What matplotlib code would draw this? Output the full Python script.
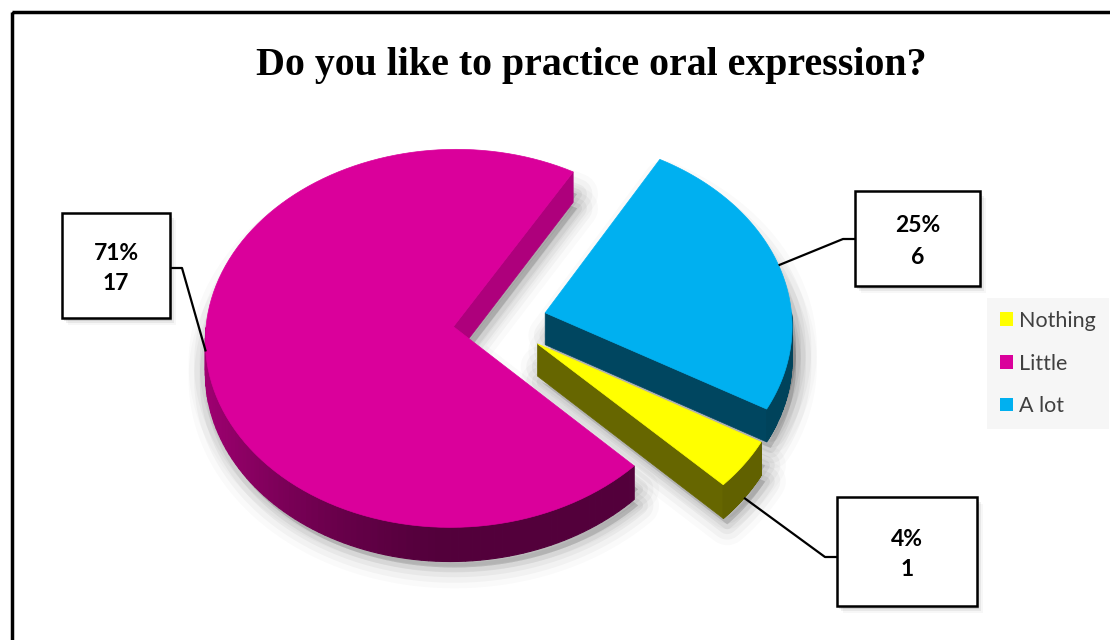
import numpy as np
import matplotlib.pyplot as plt
from matplotlib.patches import Polygon, Rectangle, Patch
from matplotlib.colors import to_rgb

# data
categories = ["Nothing", "Little", "A lot"]
counts = [1, 17, 6]
colors = ["#FFFF00", "#DA009B", "#00B0F0"]
title = "Do you like to practice oral expression?"

# fake 3D pie layout (pixels, y grows downward)
CX, CY = 500, 322
R = 247
TILT = 0.76
DEPTH = 32
PERSP = 4000.0

# label boxes (x0, y0, x1, y1) and elbow height, same order as categories
boxes = [(837, 497, 977, 606), (62, 213, 170, 318), (855, 191, 980, 286)]
elbow_y = [557, 268, 239]


def proj(u, v, z=0.0):
    """unit pie coords (u, v) + height z -> screen pixels"""
    x, y = u * R, v * R
    s = 1.0 / (1.0 + y / PERSP)
    return CX + x * s, CY + (-TILT * y - z) * s


def shade(c, f):
    r, g, b = to_rgb(c)
    return (r * f, g * f, b * f)


def rim(ox, oy, a, z=0.0):
    return proj(ox + np.cos(np.radians(a)), oy + np.sin(np.radians(a)), z)


fig = plt.figure(figsize=(11.1, 6.4), dpi=100)
ax = fig.add_axes([0, 0, 1, 1])

wedges, _ = ax.pie(counts, colors=colors, startangle=-30, counterclock=False,
                   explode=[0.19] * 3, radius=1, center=(0, 0))
geo = []
for w, c in zip(wedges, colors):
    geo.append((w.center[0], w.center[1], w.theta1, w.theta2, c))
    w.remove()

ax.set_xlim(0, 1110)
ax.set_ylim(640, 0)
ax.set_aspect("auto")
ax.axis("off")


def face_pts(ox, oy, t1, t2, z):
    pts = [proj(ox, oy, z)]
    for a in np.linspace(t1, t2, 120):
        pts.append(rim(ox, oy, a, z))
    return pts


# soft shadow under the slices (offset down-right)
for ox, oy, t1, t2, c in geo:
    pts = [(x + 4, y + 6) for x, y in face_pts(ox, oy, t1, t2, -DEPTH)]
    pts2 = [(x + 4, y + 10) for x, y in face_pts(ox, oy, t1, t2, -DEPTH * 0.4)]
    for p in (pts, pts2):
        for lw, al in [(30, 0.02), (22, 0.03), (14, 0.04), (7, 0.05)]:
            ax.add_patch(Polygon(p, closed=True, fc=(0, 0, 0, al), ec=(0, 0, 0, al),
                                 lw=lw, joinstyle="round"))

# slices, back to front
order = sorted(range(len(geo)), key=lambda i: -geo[i][1])
for i in order:
    ox, oy, t1, t2, c = geo[i]
    # radial side faces
    for a, nrm in ((t1, t1 - 90), (t2, t2 + 90)):
        if np.sin(np.radians(nrm)) < 0:
            f = 0.4 + 0.4 * max(0.0, np.cos(np.radians(nrm + 30)))
            pts = [proj(ox, oy, 0), rim(ox, oy, a, 0), rim(ox, oy, a, -DEPTH), proj(ox, oy, -DEPTH)]
            ax.add_patch(Polygon(pts, closed=True, fc=shade(c, f), ec=shade(c, f), lw=0.5))
    # outer wall
    ang = np.linspace(t1, t2, 160)
    for a0, a1 in zip(ang[:-1], ang[1:]):
        am = 0.5 * (a0 + a1)
        if np.sin(np.radians(am)) >= 0:
            continue
        f = 0.38 + 0.36 * max(0.0, -np.cos(np.radians(am))) ** 1.5
        pts = [rim(ox, oy, a0, 0), rim(ox, oy, a1, 0), rim(ox, oy, a1, -DEPTH), rim(ox, oy, a0, -DEPTH)]
        ax.add_patch(Polygon(pts, closed=True, fc=shade(c, f), ec=shade(c, f), lw=0.8))
    # top face
    ax.add_patch(Polygon(face_pts(ox, oy, t1, t2, 0), closed=True, fc=c, ec=c, lw=0.5))

# data labels with leader lines
total = sum(counts)
for i, (ox, oy, t1, t2, c) in enumerate(geo):
    x0, y0, x1, y1 = boxes[i]
    am = 0.5 * (t1 + t2)
    z = -DEPTH if np.sin(np.radians(am)) < -0.5 else 0
    axp, ayp = rim(ox, oy, am, z)
    if axp < x0:
        ex = x0 - 12
        bx = x0
    else:
        ex = x1 + 12
        bx = x1
    ax.plot([axp, ex, bx], [ayp, elbow_y[i], elbow_y[i]], color="black", lw=1.6,
            solid_capstyle="butt", zorder=5)
    for dx, dy, a in [(2, 3, 0.10), (4, 5, 0.06), (6, 7, 0.03)]:
        ax.add_patch(Rectangle((x0 + dx, y0 + dy), x1 - x0, y1 - y0, fc=(0, 0, 0, a),
                               ec="none", zorder=5))
    ax.add_patch(Rectangle((x0, y0), x1 - x0, y1 - y0, fc="white", ec="black", lw=1.8, zorder=6))
    cy = 0.5 * (y0 + y1)
    pct = round(100 * counts[i] / total)
    ax.text(0.5 * (x0 + x1), cy - 6, f"{pct}%", ha="center", va="baseline",
            fontsize=16.5, fontweight="bold", family="Lato", color="black", zorder=7)
    ax.text(0.5 * (x0 + x1), cy + 25, str(counts[i]), ha="center", va="baseline",
            fontsize=16.5, fontweight="bold", family="Lato", color="black", zorder=7)

# legend
handles = [Patch(fc=c, ec="none", label=l) for c, l in zip(colors, categories)]
leg = ax.legend(handles=handles, loc="upper left", bbox_to_anchor=(987, 298),
                bbox_transform=ax.transData, frameon=True, fancybox=False,
                facecolor="#F6F6F6", edgecolor="none", framealpha=1,
                prop={"family": "Lato", "size": 15.5}, labelcolor="#404040",
                handlelength=0.6, handleheight=0.6, handletextpad=0.3,
                labelspacing=1.05, borderpad=0.6, borderaxespad=0)

# title and chart frame
ax.text(591, 75, title, ha="center", va="baseline", fontsize=28.7, fontweight="bold",
        family="Liberation Serif", color="black")
ax.add_patch(Rectangle((12, 12), 1200, 700, fc="none", ec="black", lw=2.5, clip_on=False))

fig.savefig("out.png", dpi=100)
